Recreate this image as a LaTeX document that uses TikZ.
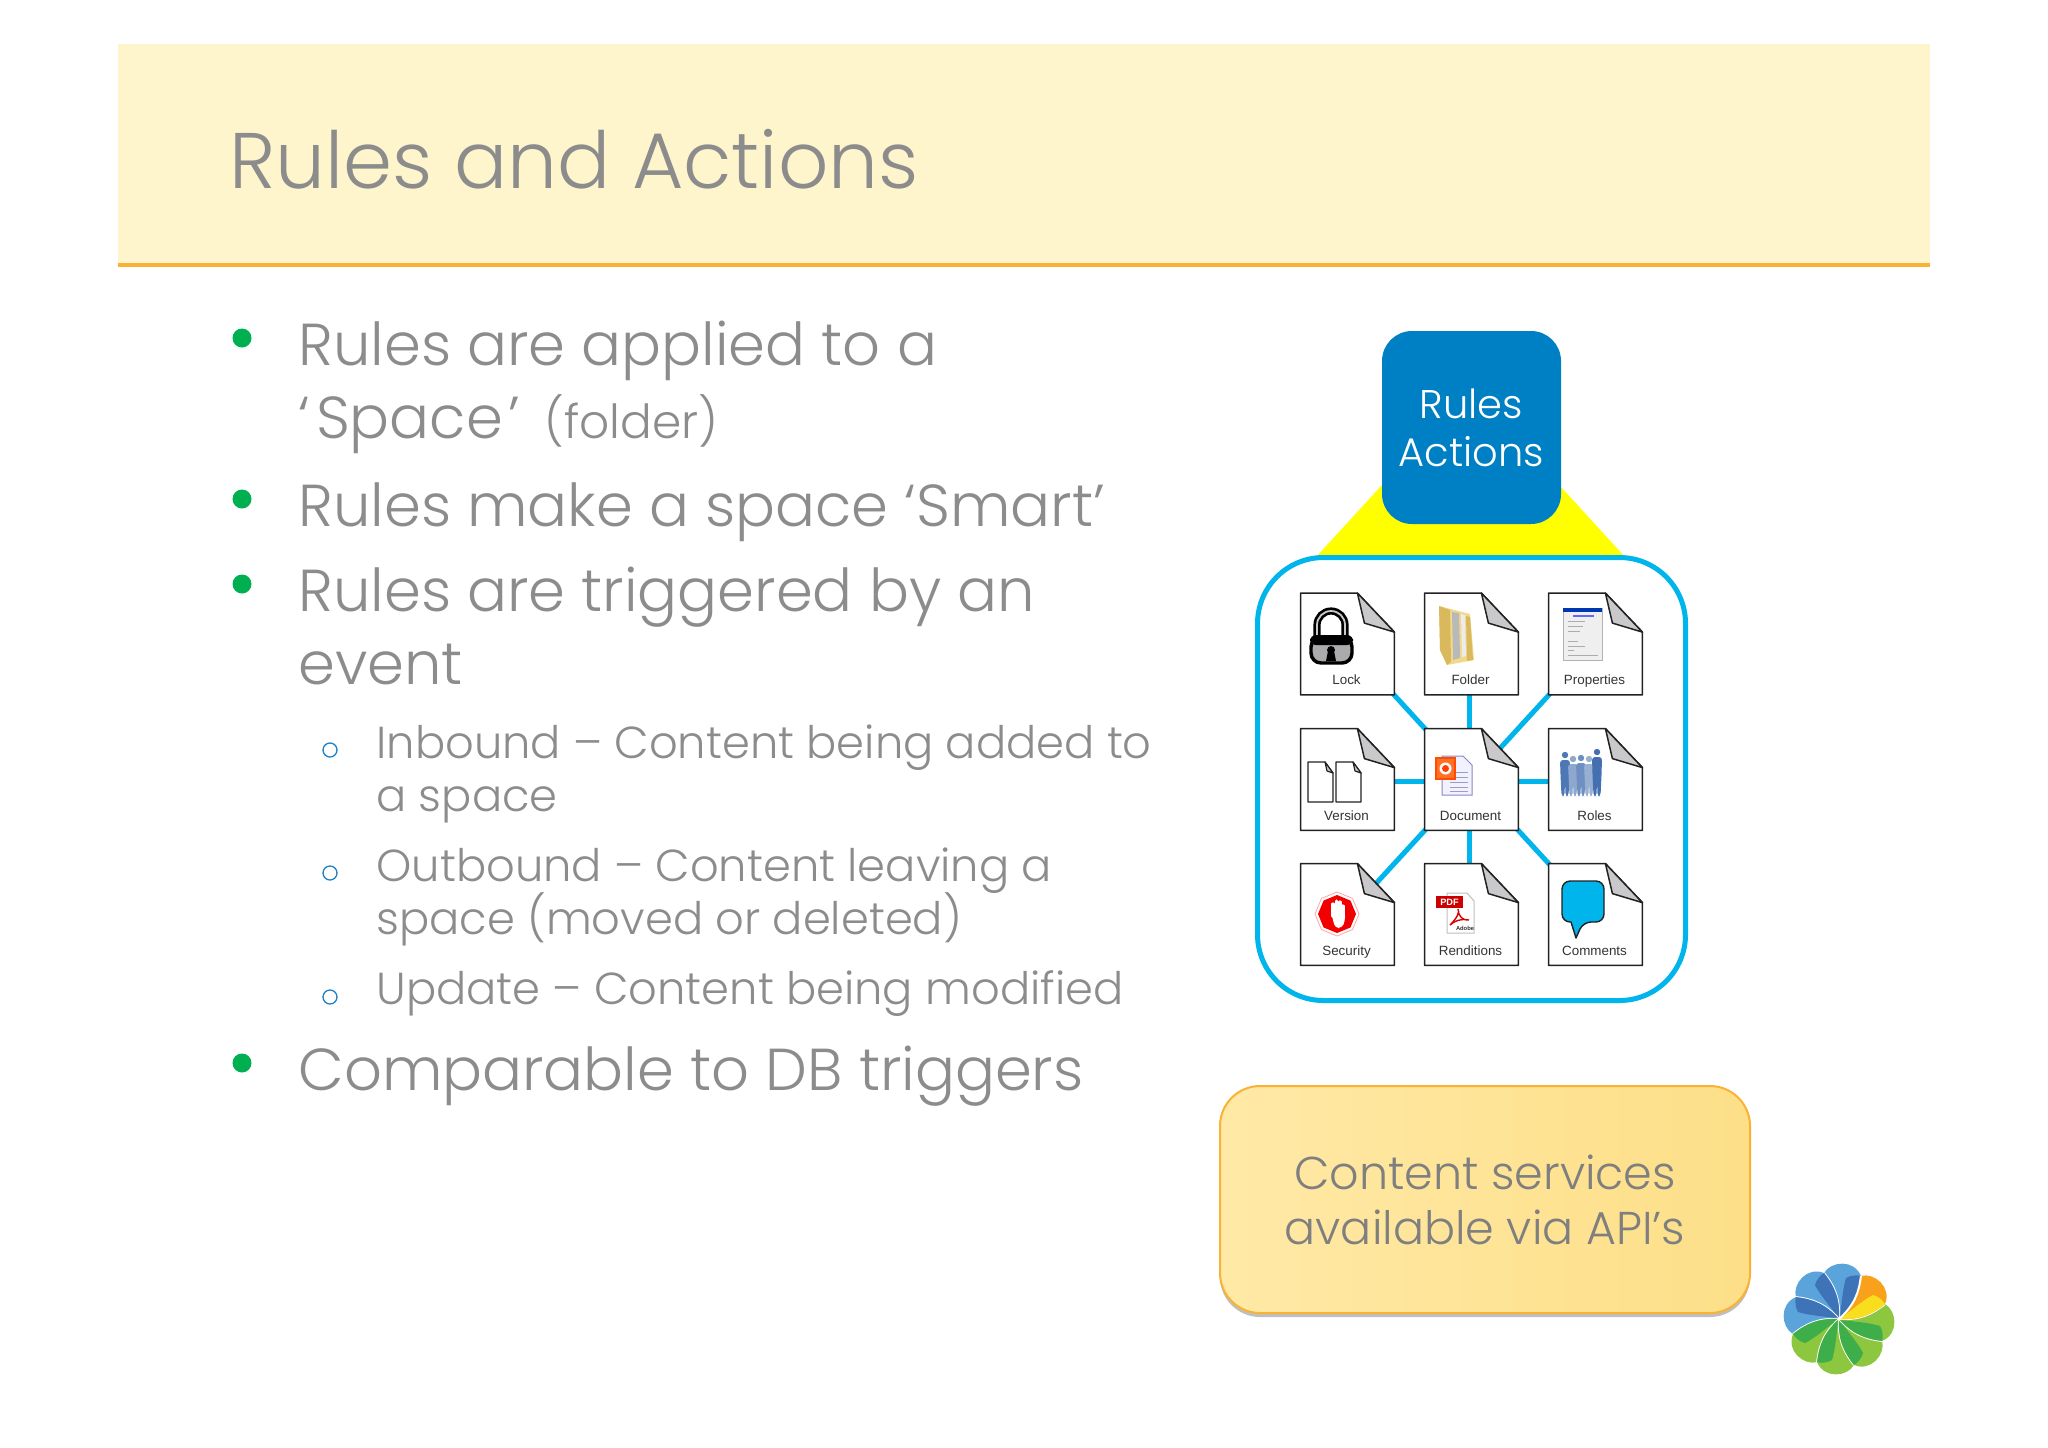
\documentclass[tikz,border=0pt]{standalone}
\usepackage{fontspec}
\setmainfont{Poppins Light}
\newfontfamily\labelfont{Liberation Sans}
\usetikzlibrary{backgrounds, shadows, shapes.geometric}

\definecolor{bannerfill}{HTML}{FFF5CC}
\definecolor{bannerline}{HTML}{F9B233}
\definecolor{slidegray}{HTML}{8C8C8C}
\definecolor{bulletgreen}{HTML}{00B050}
\definecolor{subblue}{HTML}{1F7FC4}
\definecolor{rulesblue}{HTML}{0080C4}
\definecolor{framecyan}{HTML}{00B4EC}
\definecolor{funnelyellow}{HTML}{FFFF00}
\definecolor{foldgray}{HTML}{C9C9CB}
\definecolor{pagedark}{HTML}{222222}
\definecolor{apileft}{HTML}{FFE9A6}
\definecolor{apiright}{HTML}{FDDF88}
\definecolor{apitext}{HTML}{7F7F7F}
\definecolor{folderlight}{HTML}{F0D98C}
\definecolor{folderdark}{HTML}{D9B95C}
\definecolor{rolesblue}{HTML}{2F5FA8}

\begin{document}
\begin{tikzpicture}[x=0.5pt, y=-0.5pt,
        headline/.style={anchor=base west, text=slidegray, font=\fontsize{39.4}{39.4}\selectfont, inner sep=0pt},
        mainline/.style={anchor=base west, text=slidegray, font=\fontsize{29.6}{29.6}\selectfont, inner sep=0pt},
        subline/.style={anchor=base west, text=slidegray, font=\fontsize{22.4}{22.4}\selectfont, inner sep=0pt},
        greendot/.style={circle, fill=bulletgreen, minimum size=9.5pt, inner sep=0pt},
        bluering/.style={circle, draw=subblue, line width=0.65pt, minimum size=7pt, inner sep=0pt},
        pagebox/.style={rectangle, minimum width=46.5pt, minimum height=50.5pt, inner sep=0pt},
        pageline/.style={draw=pagedark, line width=0.75pt, line join=round},
        pagelabel/.style={anchor=base, inner sep=0pt, text=black!80, font=\labelfont\fontsize{6.7}{6.7}\selectfont},
        linkline/.style={draw=framecyan, line width=2.5pt}
        ]

        % Banner
        \fill[bannerfill] (118,44) rectangle (1930,265);
        \draw[bannerline, line width=2pt] (118,265) -- (1930,265);
        \node[headline] (title) at (229,188) {Rules and Actions};

        % Bullets
        \node[greendot] (dota) at (242,338) {};
        \node[greendot] (dotb) at (242,499) {};
        \node[greendot] (dotc) at (242,584) {};
        \node[greendot] (dotd) at (242,1063) {};
        \node[bluering] (ringa) at (330,750) {};
        \node[bluering] (ringb) at (330,873) {};
        \node[bluering] (ringc) at (330,997) {};

        % Text
        \node[mainline] (rulesa) at (298,365) {Rules are applied to a};
        \node[mainline] (rulesb) at (298,438) {‘\hspace{3pt}Space\hspace{3pt}’\hspace{12pt}{\fontsize{23.5}{23.5}\selectfont (folder)}};
        \node[mainline] (smart) at (298,526) {Rules make a space ‘Smart’};
        \node[mainline] (triga) at (298,611) {Rules are triggered by an};
        \node[mainline] (trigb) at (298,684) {event};
        \node[subline] (inbounda) at (376,758) {Inbound – Content being added to};
        \node[subline] (inboundb) at (376,811) {a space};
        \node[subline] (outbounda) at (376,881) {Outbound – Content leaving a};
        \node[subline] (outboundb) at (376,934) {space (moved or deleted)};
        \node[subline] (update) at (376,1004) {Update – Content being modified};
        \node[mainline] (compare) at (298,1090) {Comparable to DB triggers};

        % Top box
        \node[rectangle, rounded corners=15pt, fill=rulesblue, text=white, align=center,
            minimum width=89.5pt, minimum height=96.5pt, inner sep=0pt,
            font=\fontsize{20}{24.5}\selectfont] (rulesbox) at (1471.5,427.5) {\raisebox{-1pt}{Rules}\\\raisebox{-0.5pt}{Actions}};

        % Pages
        \foreach \name/\px/\py/\txt in {
            lock/1347.5/644/Lock, folder/1471.5/644/Folder, properties/1595.5/644/Properties,
            version/1347.5/779.5/Version, document/1471.5/779.5/Document, roles/1595.5/779.5/Roles,
            security/1347.5/914.5/Security, renditions/1471.5/914.5/Renditions, comments/1595.5/914.5/Comments} {
            \node[pagebox] (\name) at (\px,\py) {};
            \draw[pageline, fill=white] (\name.north west) -- ([xshift=-18.5pt]\name.north east)
                -- ([yshift=-19.5pt]\name.north east) -- (\name.south east) -- (\name.south west) -- cycle;
            \draw[pageline, fill=foldgray] ([xshift=-18.5pt]\name.north east) -- ([xshift=-15pt,yshift=-15pt]\name.north east)
                -- ([yshift=-19.5pt]\name.north east) -- cycle;
            \node[pagelabel] (\name text) at ([xshift=-0.5pt,yshift=5pt]\name.south) {\txt};
        }

        % Lock icon
        \draw[black, line width=3.6pt] (1317,640) -- (1317,625) arc[start angle=180, end angle=360, radius=14] -- (1345,640);
        \draw[foldgray, line width=0.9pt] (1317,640) -- (1317,625) arc[start angle=180, end angle=360, radius=14] -- (1345,640);
        \draw[black, fill=foldgray!85!black, line width=1.7pt, rounded corners=5pt] (1311,637) rectangle (1352,663);
        \fill[black, rounded corners=3pt] (1310,635) rectangle (1353,645);
        \fill[black] (1331,650) circle[radius=4] (1328,651) -- (1334,651) -- (1336,661) -- (1326,661) -- cycle;

        % Folder icon
        \fill[folderlight] (1439,606) -- (1470,614) -- (1474,660) -- (1447,665) -- (1440,650) -- cycle;
        \fill[gray!55] (1452,612) -- (1459,613) -- (1460,658) -- (1453,660) -- cycle;
        \fill[white!85!gray] (1461,614) -- (1465,615) -- (1466,656) -- (1462,657) -- cycle;
        \fill[folderdark] (1466,616) -- (1470,617) -- (1473,660) -- (1467,661) -- cycle;
        \fill[folderdark] (1439,606) -- (1450,610) -- (1451,662) -- (1447,665) -- (1440,650) -- cycle;

        % Properties icon
        \draw[gray!60, fill=blue!3!gray!12, line width=0.4pt] (1563,608) rectangle (1602,660);
        \fill[blue!70!cyan!70!black] (1563,608) rectangle (1602,612);
        \fill[blue!60] (1573,615) rectangle (1594,617);
        \foreach \ly/\lw in {621/1585, 626/1583, 631/1580, 641/1578, 646/1585, 650/1574, 655/1598} {
            \draw[gray!65, line width=0.5pt] (1568,\ly) -- (\lw,\ly);
        }

        % Version icon
        \foreach \vx in {1308,1336} {
            \draw[pageline, line width=0.6pt, fill=white] (\vx,762) -- (\vx+17,762) -- (\vx+25,773) -- (\vx+25,802) -- (\vx,802) -- cycle;
            \draw[pageline, line width=0.6pt, fill=foldgray] (\vx+17,762) -- (\vx+19,771) -- (\vx+25,773) -- cycle;
        }

        % Document icon
        \draw[blue!35!gray!70, fill=blue!5, line width=0.5pt] (1442,756) -- (1463,756) -- (1472,765) -- (1472,795) -- (1442,795) -- cycle;
        \foreach \ly in {772,777,782,787,791} {
            \draw[blue!30!gray!60, line width=0.5pt] (1450,\ly) -- (1468,\ly);
        }
        \draw[orange!60!red, fill=orange!70!red!85, line width=0.7pt] (1436,758) rectangle (1455,779);
        \fill[white] (1445.5,768.5) circle[radius=6];
        \fill[orange!50!red] (1445.5,768.5) circle[radius=3.5];

        % Roles icon
        \foreach \rx/\ry/\tone in {1565/755/85, 1573/759/55, 1581/758/70, 1589/759/50, 1597/752/90} {
            \fill[rolesblue!\tone!white] (\rx,\ry) circle[radius=3.2];
            \fill[rolesblue!\tone!white, rounded corners=1.5pt] (\rx-5,\ry+5) -- (\rx+5,\ry+5) -- (\rx+4.5,775) -- (\rx+3.5,796) -- (\rx+0.5,796) -- (\rx,780)
                -- (\rx-0.5,796) -- (\rx-3.5,796) -- (\rx-4.5,775) -- cycle;
        }

        % Security icon
        \node[regular polygon, regular polygon sides=8, shape border rotate=22.5, draw=red!35, fill=white, minimum size=22pt, inner sep=0pt] (stopsign) at (1337,914) {};
        \node[regular polygon, regular polygon sides=8, shape border rotate=22.5, fill=red!95!black, minimum size=19pt, inner sep=0pt] (stopcore) at (1337,914) {};
        \foreach \fx/\fy in {1333/904, 1336.5/901, 1340/902, 1343/906} {
            \draw[white, line width=1.6pt, line cap=round] (\fx,\fy) -- (\fx,916);
        }
        \fill[white, rounded corners=2pt] (1331,912) -- (1345,912) -- (1345,921) -- (1342,928) -- (1335,928) -- cycle;

        % Renditions icon
        \draw[gray!50, fill=white, line width=0.5pt] (1447,893) -- (1467,893) -- (1474,901) -- (1474,933) -- (1447,933) -- cycle;
        \draw[red!85!black, line width=0.7pt] (1450,925) .. controls (1457,918) and (1460,912) .. (1458,909) .. controls (1458,916) and (1463,921) .. (1469,920) .. controls (1462,918) and (1454,921) .. (1450,925);
        \node[rectangle, fill=red!80!black, text=white, inner sep=0pt, minimum width=13.5pt, minimum height=6pt,
            font=\labelfont\bfseries\fontsize{4.6}{4.6}\selectfont] (pdfbar) at (1449.5,902) {PDF};
        \node[inner sep=0pt, text=black!80, font=\labelfont\bfseries\fontsize{2.9}{2.9}\selectfont] (adobemark) at (1465,928) {Adobe};

        % Comments icon
        \draw[pageline, fill=framecyan, line width=0.7pt, rounded corners=4pt] (1562,881) -- (1604,881) -- (1604,922)
            -- (1583,922) [sharp corners] -- (1576,938) -- (1571,922) [rounded corners=4pt] -- (1562,922) -- cycle;

        % Bottom box
        \node[rectangle, rounded corners=20pt, draw=bannerline, line width=1pt, left color=apileft, right color=apiright,
            drop shadow={shadow xshift=0pt, shadow yshift=-2pt, opacity=0.25, fill=black},
            text=apitext, align=center, minimum width=265pt, minimum height=113.5pt, inner sep=0pt,
            font=\fontsize{23}{27.5}\selectfont] (apibox) at (1485,1199.5) {\raisebox{-1pt}{Content services}\\\raisebox{-1pt}{available via API’s}};

        % Logo
        \foreach \turn/\lightc/\darkc in {0/5BA3DB/3F73B8, 45/5BA3DB/3F73B8, 90/5BA3DB/3F73B8, 135/8DC63F/3DAE49,
            180/8DC63F/3DAE49, 225/8DC63F/3DAE49, 270/8DC63F/3DAE49, 315/F9A11B/F9DE1E} {
            \begin{scope}[shift={(1839,1319)}, rotate=\turn]
                \definecolor{petallight}{HTML}{\lightc}
                \definecolor{petaldark}{HTML}{\darkc}
                \fill[petallight] (0,0) .. controls (1,-20) and (-4,-32) .. (-15,-46) .. controls (-8,-58) and (15,-60) .. (21.9,-43.1)
                    .. controls (19.8,-25.5) and (14.8,-13.4) .. (0,0) -- cycle;
                \fill[petaldark] (0,0) .. controls (3,-14) and (3,-28) .. (7,-41) .. controls (12,-44) and (18,-44) .. (21.9,-43.1)
                    .. controls (19.8,-25.5) and (14.8,-13.4) .. (0,0) -- cycle;
                \draw[white, line width=1pt] (0,0) .. controls (1,-20) and (-4,-32) .. (-15,-46);
            \end{scope}
        }

        % Frame and links
        \begin{pgfonlayer}{background}
            \fill[funnelyellow] (1382,485) -- (1316,557) -- (1625,557) -- (1561,487) -- cycle;
            \node[rectangle, rounded corners=33pt, draw=framecyan, fill=white, line width=2.5pt,
                minimum width=214pt, minimum height=221.5pt, inner sep=0pt] (frame) at (1471.5,779) {};
            \foreach \other in {lock,properties,security,comments} {
                \draw[linkline] (document.center) -- (\other.center);
            }
            \foreach \other in {folder,renditions} {
                \draw[linkline] ([xshift=-1.25pt]document.center) -- ([xshift=-1.25pt]\other.center);
            }
            \foreach \other in {version,roles} {
                \draw[linkline] ([yshift=-0.75pt]document.center) -- ([yshift=-0.75pt]\other.center);
            }
        \end{pgfonlayer}

        \useasboundingbox (0,0) rectangle (2048,1447);
    \end{tikzpicture}
\end{document}
